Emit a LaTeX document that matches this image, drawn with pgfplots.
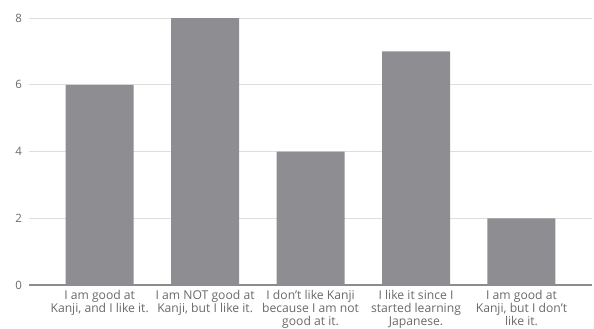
\documentclass[border=0pt]{standalone}
\usepackage{fontspec}
\setmainfont{Open Sans}
\usepackage{pgfplots}
\pgfplotsset{compat=1.18}
\definecolor{bargray}{RGB}{142,142,146}
\definecolor{gridgray}{RGB}{222,222,222}
\definecolor{basegray}{RGB}{140,140,140}
\definecolor{txtgray}{RGB}{105,105,105}
\begin{document}
\begin{tikzpicture}
\path[use as bounding box] (0,0) rectangle (594bp,329bp);
\begin{axis}[
  at={(29bp,44bp)}, anchor=south west,
  scale only axis, width=562.7bp, height=267bp,
  xmin=-0.67, xmax=4.666, ymin=0, ymax=8,
  axis line style={draw=none},
  major tick length=0pt,
  ytick={2,4,6,8},
  extra y ticks={0},
  extra y tick style={grid style={draw=basegray, line width=1.3bp}},
  ymajorgrids,
  grid style={draw=gridgray, line width=0.8bp},
  xtick={0,1,2,3,4},
  xticklabels={{I am good at\\Kanji, and I like it.},
               {I am NOT good at\\Kanji, but I like it.},
               {I don't like Kanji\\because I am not\\good at it.},
               {I like it since I\\started learning\\Japanese.},
               {I am good at\\Kanji, but I don't\\like it.}},
  xticklabel style={align=center, font=\fontsize{12.2}{12.9}\selectfont,
    text=txtgray, inner sep=0pt, yshift=-5.5bp},
  yticklabel style={font=\fontsize{11.5}{12}\selectfont, text=txtgray, inner sep=0pt, xshift=-7bp},
  /pgf/number format/assume math mode=true,
  ybar, bar width=68bp, bar shift=0pt,
]
\addplot[fill=bargray, draw=none] coordinates {(0,6) (1,8) (2,4) (3,7) (4,2)};
\end{axis}
\end{tikzpicture}
\end{document}
